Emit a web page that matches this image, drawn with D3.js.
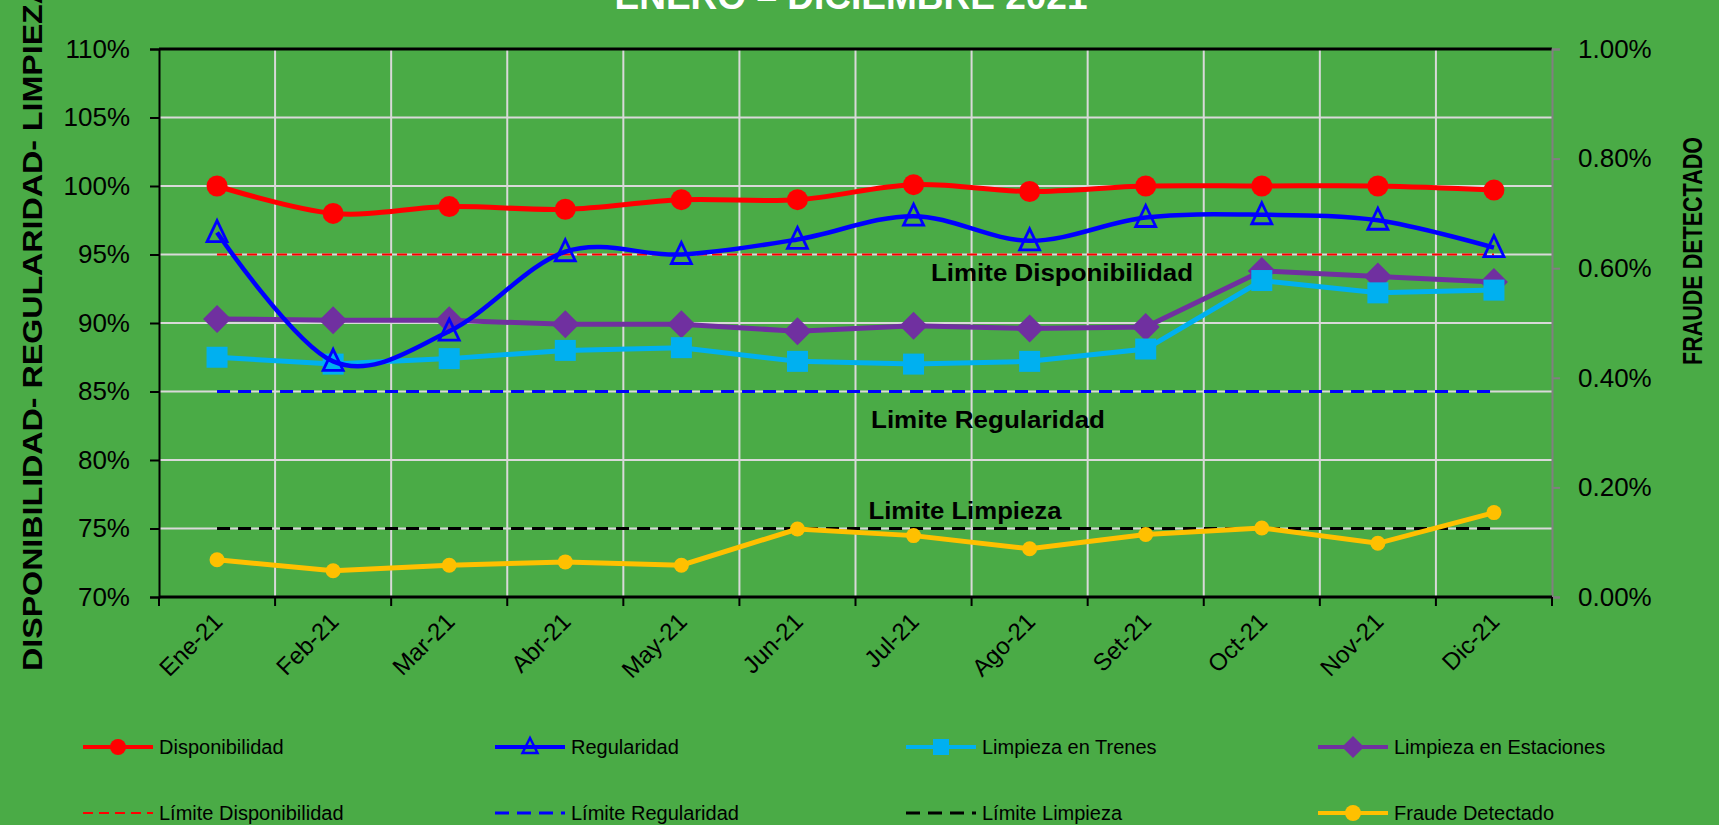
<!DOCTYPE html>
<html>
<head>
<meta charset="utf-8">
<script src="https://cdn.jsdelivr.net/npm/d3@7"></script>
<style>
  body { margin: 0; background: #4aab46; overflow: hidden; }
  svg { display: block; font-family: "Liberation Sans", Arial, sans-serif; }
</style>
</head>
<body>
<div id="canvas"></div>
<script>
// data
const months = ["Ene-21","Feb-21","Mar-21","Abr-21","May-21","Jun-21","Jul-21","Ago-21","Set-21","Oct-21","Nov-21","Dic-21"];
const disponibilidad = [100.0, 98.0, 98.5, 98.3, 99.0, 99.0, 100.1, 99.6, 100.0, 100.0, 100.0, 99.7];
const regularidad = [96.6, 87.2, 89.4, 95.2, 95.0, 96.1, 97.8, 96.0, 97.7, 97.9, 97.5, 95.5];
const limpiezaTrenes = [87.5, 87.0, 87.4, 88.0, 88.2, 87.2, 87.0, 87.2, 88.1, 93.1, 92.2, 92.4];
const limpiezaEstaciones = [90.3, 90.2, 90.2, 89.9, 89.9, 89.4, 89.8, 89.6, 89.7, 93.8, 93.4, 93.0];
const fraude = [0.068, 0.048, 0.058, 0.064, 0.058, 0.124, 0.112, 0.088, 0.114, 0.126, 0.098, 0.154];
const limites = [
  { name: "Disponibilidad", value: 95, color: "#ff0000", dash: "10,5", width: 2, label: "Limite  Disponibilidad", dy: 26, len: 262 },
  { name: "Regularidad", value: 85, color: "#0000ff", dash: "13,8", width: 3, label: "Limite  Regularidad", dy: 36, len: 234 },
  { name: "Limpieza", value: 75, color: "#000000", dash: "13,8", width: 3, label: "Limite  Limpieza", dy: -10, len: 193 }
];
const leftTicks = [70, 75, 80, 85, 90, 95, 100, 105, 110];
const rightTicks = [0, 0.2, 0.4, 0.6, 0.8, 1.0];

const W = 1719, H = 825;
const margin = { top: 49, right: 167, bottom: 228, left: 159 };
const width = W - margin.left - margin.right;
const height = H - margin.top - margin.bottom;

const svg = d3.select("#canvas").append("svg")
  .attr("width", W).attr("height", H);

svg.append("rect").attr("width", W).attr("height", H).attr("fill", "#4aab46");

// title, partly above the top edge like in the original
svg.append("text")
  .attr("x", 851).attr("y", 9)
  .attr("text-anchor", "middle")
  .attr("fill", "#ffffff")
  .style("font-weight", "bold")
  .style("font-size", "37px")
  .text("ENERO – DICIEMBRE 2021");

const g = svg.append("g").attr("transform", `translate(${margin.left},${margin.top})`);

const x = d3.scaleBand().domain(months).range([0, width]);
const cx = d => x(d) + x.bandwidth() / 2;
const y = d3.scaleLinear().domain([70, 110]).range([height, 0]);
const y2 = d3.scaleLinear().domain([0, 1]).range([height, 0]);

// grid
g.append("g").selectAll("line").data(leftTicks.slice(1, -1)).enter().append("line")
  .attr("x1", 0).attr("x2", width)
  .attr("y1", d => y(d)).attr("y2", d => y(d))
  .attr("stroke", "#d9d9d9").attr("stroke-width", 2);
g.append("g").selectAll("line").data(months.slice(1)).enter().append("line")
  .attr("x1", d => x(d)).attr("x2", d => x(d))
  .attr("y1", 0).attr("y2", height)
  .attr("stroke", "#d9d9d9").attr("stroke-width", 2);

// top border
g.append("line").attr("x1", 0).attr("x2", width).attr("y1", 0).attr("y2", 0)
  .attr("stroke", "#000").attr("stroke-width", 3);

// left axis
const yAxis = g.append("g")
  .call(d3.axisLeft(y).tickValues(leftTicks).tickFormat(d => d + "%").tickSize(9).tickPadding(20));
yAxis.select(".domain").attr("stroke", "#000").attr("stroke-width", 2);
yAxis.selectAll(".tick line").attr("stroke", "#000").attr("stroke-width", 2);
yAxis.selectAll("text").attr("fill", "#000").style("font-size", "26px").style("font-family", "Liberation Sans, Arial");

// right axis
const yAxis2 = g.append("g").attr("transform", `translate(${width},0)`)
  .call(d3.axisRight(y2).tickValues(rightTicks).tickFormat(d => d.toFixed(2) + "%").tickSize(8).tickPadding(18));
yAxis2.select(".domain").attr("stroke", "#808080").attr("stroke-width", 2);
yAxis2.selectAll(".tick line").attr("stroke", "#808080").attr("stroke-width", 2);
yAxis2.selectAll("text").attr("fill", "#000").style("font-size", "26px").style("font-family", "Liberation Sans, Arial");

// bottom axis: ticks on band edges, labels at centres
const xAxis = g.append("g").attr("transform", `translate(0,${height})`);
xAxis.append("line").attr("x1", 0).attr("x2", width).attr("stroke", "#000").attr("stroke-width", 3);
xAxis.selectAll(".edge").data(months.concat(["end"])).enter().append("line")
  .attr("x1", (d, i) => i < months.length ? x(d) : width)
  .attr("x2", (d, i) => i < months.length ? x(d) : width)
  .attr("y1", 0).attr("y2", 9)
  .attr("stroke", "#000").attr("stroke-width", 2);
xAxis.selectAll(".lab").data(months).enter().append("text")
  .attr("text-anchor", "end")
  .attr("transform", d => `translate(${cx(d) + 7},${26}) rotate(-45)`)
  .style("font-size", "24px")
  .attr("fill", "#000")
  .text(d => d);

// limit lines + labels
limites.forEach(l => {
  g.append("line")
    .attr("x1", cx(months[0])).attr("x2", cx(months[months.length - 1]))
    .attr("y1", y(l.value)).attr("y2", y(l.value))
    .attr("stroke", l.color).attr("stroke-width", l.width)
    .attr("stroke-dasharray", l.dash);
});
const labelX = [1062, 988, 965];
limites.forEach((l, i) => {
  g.append("text")
    .attr("x", labelX[i] - margin.left).attr("y", y(l.value) + l.dy)
    .attr("text-anchor", "middle")
    .attr("textLength", l.len).attr("lengthAdjust", "spacingAndGlyphs")
    .style("font-weight", "bold").style("font-size", "23px")
    .attr("fill", "#000")
    .text(l.label);
});

// series
const smooth = d3.line().x((d, i) => cx(months[i])).y(d => y(d)).curve(d3.curveCatmullRom.alpha(0));
const straight = d3.line().x((d, i) => cx(months[i])).y(d => y(d));
const straight2 = d3.line().x((d, i) => cx(months[i])).y(d => y2(d));

g.append("path").datum(fraude).attr("d", straight2)
  .attr("fill", "none").attr("stroke", "#ffc000").attr("stroke-width", 5);
g.selectAll(".dotF").data(fraude).enter().append("circle")
  .attr("cx", (d, i) => cx(months[i])).attr("cy", d => y2(d)).attr("r", 7.5)
  .attr("fill", "#ffc000");

g.append("path").datum(limpiezaEstaciones).attr("d", straight)
  .attr("fill", "none").attr("stroke", "#7030a0").attr("stroke-width", 5);
g.selectAll(".dotE").data(limpiezaEstaciones).enter().append("path")
  .attr("transform", (d, i) => `translate(${cx(months[i])},${y(d)})`)
  .attr("d", "M0,-14L14,0L0,14L-14,0Z")
  .attr("fill", "#7030a0");

g.append("path").datum(limpiezaTrenes).attr("d", straight)
  .attr("fill", "none").attr("stroke", "#00b0f0").attr("stroke-width", 5);
g.selectAll(".dotT").data(limpiezaTrenes).enter().append("rect")
  .attr("x", (d, i) => cx(months[i]) - 10.5).attr("y", d => y(d) - 10.5)
  .attr("width", 21).attr("height", 21)
  .attr("fill", "#00b0f0");

g.append("path").datum(regularidad).attr("d", smooth)
  .attr("fill", "none").attr("stroke", "#0000ff").attr("stroke-width", 4.5);
g.selectAll(".dotR").data(regularidad).enter().append("path")
  .attr("transform", (d, i) => `translate(${cx(months[i])},${y(d)})`)
  .attr("d", "M0,-12L10,9L-10,9Z")
  .attr("fill", "none").attr("stroke", "#0000ff").attr("stroke-width", 2.8);

g.append("path").datum(disponibilidad).attr("d", smooth)
  .attr("fill", "none").attr("stroke", "#ff0000").attr("stroke-width", 5);
g.selectAll(".dotD").data(disponibilidad).enter().append("circle")
  .attr("cx", (d, i) => cx(months[i])).attr("cy", d => y(d)).attr("r", 10.5)
  .attr("fill", "#ff0000");

// axis titles
svg.append("text")
  .attr("transform", "translate(42,671) rotate(-90)")
  .attr("text-anchor", "start")
  .attr("textLength", 690).attr("lengthAdjust", "spacingAndGlyphs")
  .style("font-weight", "bold").style("font-size", "28px")
  .attr("fill", "#000")
  .text("DISPONIBILIDAD- REGULARIDAD- LIMPIEZA");
svg.append("text")
  .attr("transform", "translate(1702,251) rotate(-90)")
  .attr("text-anchor", "middle")
  .attr("textLength", 228).attr("lengthAdjust", "spacingAndGlyphs")
  .style("font-weight", "bold").style("font-size", "28px")
  .attr("fill", "#000")
  .text("FRAUDE DETECTADO");

// legend
const legendItems = [
  { name: "Disponibilidad", color: "#ff0000", dash: null, marker: "circle", w: 4 },
  { name: "Regularidad", color: "#0000ff", dash: null, marker: "triangle", w: 4 },
  { name: "Limpieza en Trenes", color: "#00b0f0", dash: null, marker: "square", w: 4 },
  { name: "Limpieza en Estaciones", color: "#7030a0", dash: null, marker: "diamond", w: 4 },
  { name: "Límite Disponibilidad", color: "#ff0000", dash: "10,6", marker: null, w: 2 },
  { name: "Límite Regularidad", color: "#0000ff", dash: "14,8", marker: null, w: 3 },
  { name: "Límite Limpieza", color: "#000000", dash: "14,8", marker: null, w: 3 },
  { name: "Fraude Detectado", color: "#ffc000", dash: null, marker: "circle", w: 4 }
];
const colX = [83, 495, 906, 1318];
const rowY = [747, 813];
legendItems.forEach((it, i) => {
  const lg = svg.append("g").attr("transform", `translate(${colX[i % 4]},${rowY[Math.floor(i / 4)]})`);
  lg.append("line").attr("x1", 0).attr("x2", 70).attr("y1", 0).attr("y2", 0)
    .attr("stroke", it.color).attr("stroke-width", it.w)
    .attr("stroke-dasharray", it.dash);
  if (it.marker === "circle") lg.append("circle").attr("cx", 35).attr("r", 8).attr("fill", it.color);
  if (it.marker === "square") lg.append("rect").attr("x", 27).attr("y", -8).attr("width", 16).attr("height", 16).attr("fill", it.color);
  if (it.marker === "diamond") lg.append("path").attr("transform", "translate(35,0)").attr("d", "M0,-11L11,0L0,11L-11,0Z").attr("fill", it.color);
  if (it.marker === "triangle") lg.append("path").attr("transform", "translate(35,0)").attr("d", "M0,-9L7.5,6L-7.5,6Z")
    .attr("fill", "none").attr("stroke", it.color).attr("stroke-width", 2.5);
  lg.append("text").attr("x", 76).attr("y", 7)
    .style("font-size", "20px").attr("fill", "#000")
    .text(it.name);
});
</script>
</body>
</html>
